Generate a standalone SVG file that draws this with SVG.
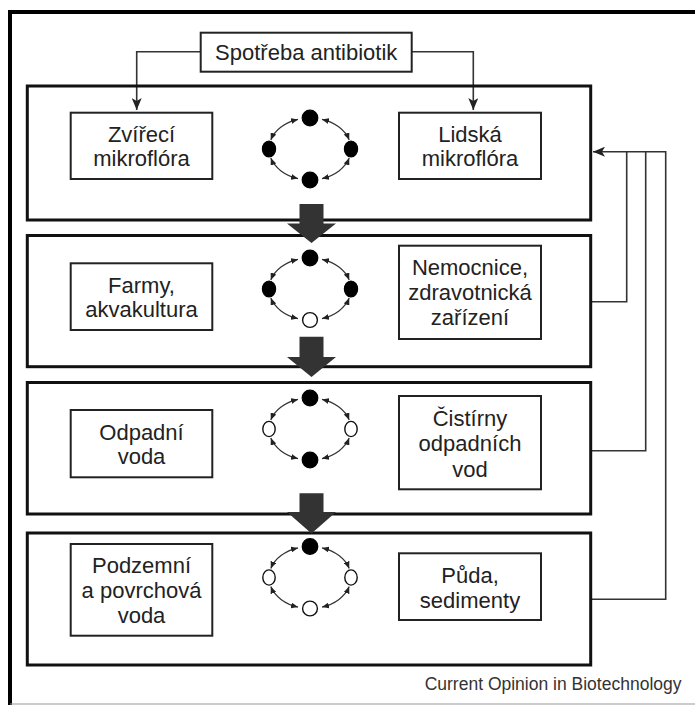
<svg xmlns="http://www.w3.org/2000/svg" xmlns:xlink="http://www.w3.org/1999/xlink" width="695" height="705" viewBox="0 0 695 705">
<style>
.panel{fill:none;stroke:#111;stroke-width:3}
.box{fill:#fff;stroke:#222;stroke-width:2}
.t{font-family:"Liberation Sans",Arial,sans-serif;font-size:22px;fill:#222;text-anchor:middle}
.cap{font-family:"Liberation Sans",Arial,sans-serif;font-size:17.5px;fill:#333;text-anchor:end}
.con{fill:none;stroke:#333;stroke-width:1.6}
.arc{fill:none;stroke:#333;stroke-width:1.2;marker-start:url(#sa);marker-end:url(#sa)}
.bk{fill:#000;stroke:#000;stroke-width:1.2}
.wh{fill:#fff;stroke:#111;stroke-width:1.4}
.big{fill:#333}
</style>
<defs>
<marker id="sa" viewBox="0 0 7 6" refX="7" refY="3" markerWidth="7" markerHeight="6" markerUnits="userSpaceOnUse" orient="auto-start-reverse"><path d="M0,0 L7,3 L0,6 z" fill="#222"/></marker>
<marker id="ah" viewBox="0 0 12 10" refX="12" refY="5" markerWidth="12" markerHeight="10" markerUnits="userSpaceOnUse" orient="auto"><path d="M0,0 L12,5 L0,10 L3,5 z" fill="#222"/></marker>
<g id="ring">
<path class="arc" d="M12,-29.6 A41,31 0 0 1 39.2,-9.1"/>
<path class="arc" d="M39.2,9.1 A41,31 0 0 1 12,29.6"/>
<path class="arc" d="M-12,29.6 A41,31 0 0 1 -39.2,9.1"/>
<path class="arc" d="M-39.2,-9.1 A41,31 0 0 1 -12,-29.6"/>
</g>
</defs>
<rect width="695" height="705" fill="#fff"/>
<!-- outer frame -->
<line x1="8" y1="12" x2="695" y2="12" stroke="#000" stroke-width="4"/>
<line x1="10" y1="10" x2="10" y2="705" stroke="#000" stroke-width="4"/>
<line x1="10" y1="704" x2="695" y2="704" stroke="#999" stroke-width="1.2"/>

<g id="connectors">
<polyline class="con" points="200.7,51.7 136.7,51.7 136.7,110" marker-end="url(#ah)"/>
<polyline class="con" points="411.7,51.7 473.3,51.7 473.3,110" marker-end="url(#ah)"/>
<polyline class="con" points="590.7,301.7 626.7,301.7 626.7,151.7"/>
<polyline class="con" points="590.7,450.7 645.7,450.7 645.7,151.7"/>
<polyline class="con" points="590.7,599.3 665.7,599.3 665.7,151.7 593,151.7" marker-end="url(#ah)"/>
</g>

<g id="spotreba">
<rect class="box" x="200.7" y="32.7" width="211" height="39"/>
<text class="t" x="306.2" y="60">Spotřeba antibiotik</text>
</g>

<g id="panel1">
<rect class="panel" x="27.3" y="86" width="563.4" height="134"/>
</g>
<g id="panel2">
<rect class="panel" x="27.3" y="235.5" width="563.4" height="131.2"/>
</g>
<g id="panel3">
<rect class="panel" x="27.3" y="382.5" width="563.4" height="131.5"/>
</g>
<g id="panel4">
<rect class="panel" x="27.3" y="533" width="563.4" height="132"/>
</g>

<g id="zvireci">
<rect class="box" x="70.7" y="112.7" width="141.6" height="66.3"/>
<text class="t" x="141.5" y="142">Zvířecí</text>
<text class="t" x="141.5" y="166">mikroflóra</text>
</g>
<g id="lidska">
<rect class="box" x="399" y="112.7" width="142" height="66.3"/>
<text class="t" x="470" y="142">Lidská</text>
<text class="t" x="470" y="166">mikroflóra</text>
</g>
<g id="farmy">
<rect class="box" x="70.7" y="263.3" width="141.6" height="66.7"/>
<text class="t" x="141.5" y="293">Farmy,</text>
<text class="t" x="141.5" y="317">akvakultura</text>
</g>
<g id="nemocnice">
<rect class="box" x="399" y="245.7" width="142" height="93.3"/>
<text class="t" x="470" y="275">Nemocnice,</text>
<text class="t" x="470" y="300">zdravotnická</text>
<text class="t" x="470" y="325">zařízení</text>
</g>
<g id="odpadni">
<rect class="box" x="70.7" y="410" width="141.6" height="67.3"/>
<text class="t" x="141.5" y="440">Odpadní</text>
<text class="t" x="141.5" y="464">voda</text>
</g>
<g id="cistirny">
<rect class="box" x="399" y="396" width="142" height="93.3"/>
<text class="t" x="470" y="426">Čistírny</text>
<text class="t" x="470" y="451">odpadních</text>
<text class="t" x="470" y="477">vod</text>
</g>
<g id="podzemni">
<rect class="box" x="70.7" y="544" width="141.6" height="91.7"/>
<text class="t" x="141.5" y="573">Podzemní</text>
<text class="t" x="141.5" y="598">a povrchová</text>
<text class="t" x="141.5" y="623">voda</text>
</g>
<g id="puda">
<rect class="box" x="399" y="553.3" width="142" height="66.7"/>
<text class="t" x="470" y="582.7">Půda,</text>
<text class="t" x="470" y="607.5">sedimenty</text>
</g>

<g id="cycle1" transform="translate(310,149)">
<use xlink:href="#ring"/>
<circle class="bk" cx="0" cy="-31" r="7.8"/>
<ellipse class="bk" cx="41" cy="0" rx="6.6" ry="8"/>
<circle class="bk" cx="0" cy="31" r="7.8"/>
<ellipse class="bk" cx="-41" cy="0" rx="6.6" ry="8"/>
</g>
<g id="cycle2" transform="translate(310,289)">
<use xlink:href="#ring"/>
<circle class="bk" cx="0" cy="-31" r="7.8"/>
<ellipse class="bk" cx="41" cy="0" rx="6.6" ry="8"/>
<circle class="wh" cx="0" cy="31" r="7.4"/>
<ellipse class="bk" cx="-41" cy="0" rx="6.6" ry="8"/>
</g>
<g id="cycle3" transform="translate(310,429)">
<use xlink:href="#ring"/>
<circle class="bk" cx="0" cy="-31" r="7.8"/>
<ellipse class="wh" cx="41" cy="0" rx="6.2" ry="7.6"/>
<circle class="bk" cx="0" cy="31" r="7.8"/>
<ellipse class="wh" cx="-41" cy="0" rx="6.2" ry="7.6"/>
</g>
<g id="cycle4" transform="translate(310,577.5)">
<use xlink:href="#ring"/>
<circle class="bk" cx="0" cy="-31" r="7.8"/>
<ellipse class="wh" cx="41" cy="0" rx="6.2" ry="7.6"/>
<circle class="wh" cx="0" cy="31" r="7.4"/>
<ellipse class="wh" cx="-41" cy="0" rx="6.2" ry="7.6"/>
</g>

<g id="flow-arrows">
<path class="big" d="M299.5,204 H323.5 V223.5 H336 L311.5,243 L287,223.5 H299.5 Z"/>
<path class="big" d="M299.5,336.7 H323.5 V357 H336 L311.5,377 L287,357 H299.5 Z"/>
<path class="big" d="M299.5,493.3 H323.5 V512 H336 L311.5,533.5 L287,512 H299.5 Z"/>
</g>

<text class="cap" x="681.5" y="690">Current Opinion in Biotechnology</text>
</svg>
